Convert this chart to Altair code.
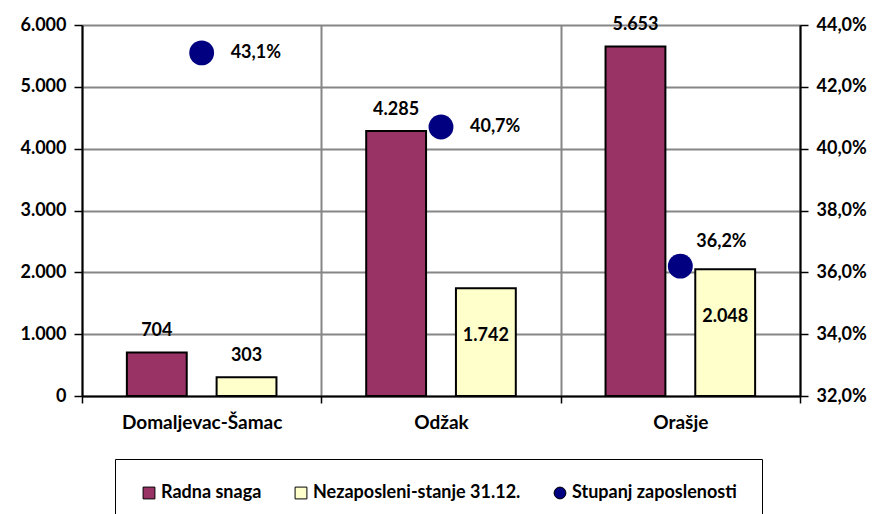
import altair as alt
import pandas as pd

categories = ["Domaljevac-Šamac", "Odžak", "Orašje"]
radna_snaga = [704, 4285, 5653]
nezaposleni = [303, 1742, 2048]
stupanj = [43.1, 40.7, 36.2]
series_names = ["Radna snaga", "Nezaposleni-stanje 31.12.", "Stupanj zaposlenosti"]
series_colors = ["#993366", "#FFFFCC", "#000080"]
left_ticks = [0, 1000, 2000, 3000, 4000, 5000, 6000]
right_ticks = [32, 34, 36, 38, 40, 42, 44]

bars_df = pd.DataFrame({
    "kategorija": categories * 2,
    "serija": [series_names[0]] * 3 + [series_names[1]] * 3,
    "vrijednost": radna_snaga + nezaposleni,
})
pts_df = pd.DataFrame({
    "kategorija": categories,
    "serija": [series_names[2]] * 3,
    "pct": stupanj,
})

FONT = "Lato"
GRID = "#868686"
FS = 18

color_scale = alt.Scale(domain=series_names, range=series_colors)
shape_scale = alt.Scale(domain=series_names, range=["square", "square", "circle"])

legend = alt.Legend(
    title=None, orient="none", legendX=33, legendY=434, direction="horizontal",
    columns=3, columnPadding=30, strokeColor="black", padding=25,
    labelFont=FONT, labelFontSize=18, labelFontWeight="bold", labelColor="black",
    labelLimit=400,
    symbolSize=140, symbolStrokeColor="black", symbolStrokeWidth=1, labelOffset=3,
)

x_enc = alt.X(
    "kategorija:N", sort=categories,
    scale=alt.Scale(paddingInner=0, paddingOuter=0),
    axis=alt.Axis(title=None, labelAngle=0, tickBand="extent", grid=True,
                  gridColor=GRID, gridWidth=2, domainColor="black", domainWidth=2,
                  tickColor="black", tickWidth=1.5, tickSize=7,
                  labelFont=FONT, labelFontSize=FS + 1, labelFontWeight="bold",
                  labelColor="black", labelPadding=10),
)
y_left = alt.Y(
    "vrijednost:Q", scale=alt.Scale(domain=[0, 6000], nice=False),
    axis=alt.Axis(title=None, values=left_ticks,
                  labelExpr="replace(format(datum.value, ',.0f'), ',', '.')",
                  grid=True, gridColor=GRID, gridWidth=2,
                  domainColor="black", domainWidth=2, tickColor="black",
                  tickWidth=1.5, tickSize=8, labelFont=FONT, labelFontSize=FS,
                  labelFontWeight="bold", labelColor="black", labelPadding=8),
)
x_off = alt.XOffset("serija:N", sort=series_names[:2],
                    scale=alt.Scale(domain=series_names[:2], paddingInner=0.333, paddingOuter=0.5))

base_bars = alt.Chart(bars_df).encode(x=x_enc, y=y_left, xOffset=x_off)

bars = base_bars.mark_bar(stroke="black", strokeWidth=2).encode(
    color=alt.Color("serija:N", scale=color_scale, legend=legend)
)

lab_expr = "replace(format(datum.vrijednost, ',.0f'), ',', '.')"
bar_lab_above = base_bars.transform_filter(
    f"datum.serija == '{series_names[0]}' || datum.kategorija == '{categories[0]}'"
).transform_calculate(lab=lab_expr).mark_text(
    font=FONT, fontSize=FS, fontWeight="bold", color="black", baseline="middle", dy=-21
).encode(text="lab:N")

bar_lab_inside = base_bars.transform_filter(
    f"datum.serija == '{series_names[1]}' && datum.kategorija != '{categories[0]}'"
).transform_calculate(lab=lab_expr).mark_text(
    font=FONT, fontSize=FS, fontWeight="bold", color="black", baseline="middle", dy=48
).encode(text="lab:N")

left = alt.layer(bars, bar_lab_above, bar_lab_inside)

y_right = alt.Y(
    "pct:Q", scale=alt.Scale(domain=[32, 44], nice=False),
    axis=alt.Axis(title=None, orient="right", values=right_ticks,
                  labelExpr="replace(format(datum.value, '.1f'), '.', ',') + '%'",
                  grid=False, domainColor="black", domainWidth=2, tickColor="black",
                  tickWidth=1.5, tickSize=8, labelFont=FONT, labelFontSize=FS,
                  labelFontWeight="bold", labelColor="black", labelPadding=8),
)
base_pts = alt.Chart(pts_df).encode(x=x_enc, y=y_right)

points = base_pts.mark_point(filled=True, size=620, opacity=1).encode(
    color=alt.Color("serija:N", scale=color_scale, legend=legend),
    shape=alt.Shape("serija:N", scale=shape_scale, legend=legend),
)
pct_expr = "replace(format(datum.pct, '.1f'), '.', ',') + '%'"
pct_lab_right = base_pts.transform_filter(
    f"datum.kategorija != '{categories[2]}'"
).transform_calculate(lab=pct_expr).mark_text(
    font=FONT, fontSize=FS, fontWeight="bold", color="black", align="left", baseline="middle", dx=29
).encode(text="lab:N")
pct_lab_above = base_pts.transform_filter(
    f"datum.kategorija == '{categories[2]}'"
).transform_calculate(lab=pct_expr).mark_text(
    font=FONT, fontSize=FS, fontWeight="bold", color="black", align="left", baseline="middle", dx=16, dy=-24
).encode(text="lab:N")

right = alt.layer(points, pct_lab_right, pct_lab_above)

chart = alt.layer(left, right).resolve_scale(y="independent").properties(
    width=718, height=371,
    padding={"left": 74, "top": 17, "right": 69, "bottom": 118},
    autosize=alt.AutoSizeParams(type="none"),
).configure_view(stroke=None)

chart.save("out.html", embed_options={"renderer": "svg", "actions": False})
